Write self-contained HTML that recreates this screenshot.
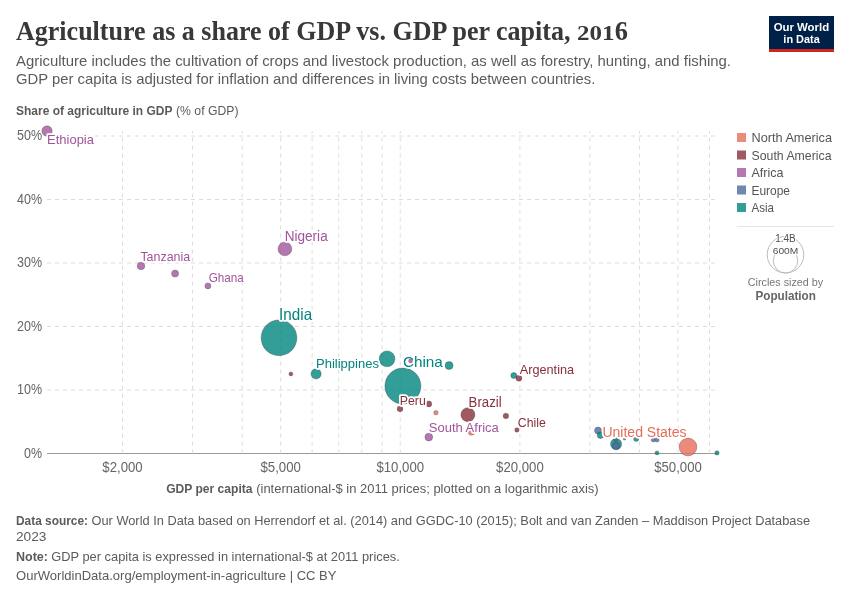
<!DOCTYPE html>
<html><head><meta charset="utf-8">
<style>
html,body{margin:0;padding:0;background:#fff;}
body{width:850px;height:600px;overflow:hidden;position:relative;}
svg{position:absolute;left:0;top:0;will-change:transform;}
text{font-family:"Liberation Sans",sans-serif;}
.serif{font-family:"Liberation Serif",serif;}
</style></head><body>
<svg width="850" height="600" viewBox="0 0 850 600">
<text x="16" y="40" font-size="27" fill="#383838" class="serif" font-weight="700" textLength="554.5" lengthAdjust="spacingAndGlyphs">Agriculture as a share of GDP vs. GDP per capita,</text>
<g transform="translate(577,40) scale(1,0.74)"><text x="0" y="0" font-size="27" fill="#383838" font-weight="700" class="serif" textLength="37.5" lengthAdjust="spacingAndGlyphs">201</text></g>
<text x="614.8" y="40" font-size="27" fill="#383838" class="serif" font-weight="700" textLength="13.2" lengthAdjust="spacingAndGlyphs">6</text>
<text x="16" y="66" font-size="15" fill="#5b5b5b" textLength="715" lengthAdjust="spacingAndGlyphs">Agriculture includes the cultivation of crops and livestock production, as well as forestry, hunting, and fishing.</text>
<text x="16" y="84" font-size="15" fill="#5b5b5b" textLength="579.3" lengthAdjust="spacingAndGlyphs">GDP per capita is adjusted for inflation and differences in living costs between countries.</text>
<rect x="769" y="16" width="65" height="36" fill="#002147"/>
<rect x="769" y="49" width="65" height="3" fill="#ce261e"/>
<text x="801.4" y="30.8" font-size="11.8" fill="#fff" font-weight="700" text-anchor="middle" textLength="55.5" lengthAdjust="spacingAndGlyphs">Our World</text>
<text x="801.6" y="42.6" font-size="11.8" fill="#fff" font-weight="700" text-anchor="middle" textLength="36.5" lengthAdjust="spacingAndGlyphs">in Data</text>
<text x="16" y="114.7" font-size="12.4" fill="#5b5b5b" font-weight="700" textLength="156.5" lengthAdjust="spacingAndGlyphs">Share of agriculture in GDP</text>
<text x="176" y="114.7" font-size="12.4" fill="#5b5b5b" textLength="62.5" lengthAdjust="spacingAndGlyphs">(% of GDP)</text>
<line x1="47" y1="453.5" x2="718" y2="453.5" stroke="#999" stroke-width="1"/>
<line x1="47" y1="390.0" x2="718" y2="390.0" stroke="#ddd" stroke-width="1" stroke-dasharray="4,4"/>
<line x1="47" y1="326.5" x2="718" y2="326.5" stroke="#ddd" stroke-width="1" stroke-dasharray="4,4"/>
<line x1="47" y1="263.0" x2="718" y2="263.0" stroke="#ddd" stroke-width="1" stroke-dasharray="4,4"/>
<line x1="47" y1="199.5" x2="718" y2="199.5" stroke="#ddd" stroke-width="1" stroke-dasharray="4,4"/>
<line x1="47" y1="136.0" x2="718" y2="136.0" stroke="#ddd" stroke-width="1" stroke-dasharray="4,4"/>
<line x1="122.50" y1="453.5" x2="122.50" y2="131" stroke="#ddd" stroke-width="1" stroke-dasharray="4,4"/>
<line x1="192.48" y1="453.5" x2="192.48" y2="131" stroke="#ddd" stroke-width="1" stroke-dasharray="4,4"/>
<line x1="242.13" y1="453.5" x2="242.13" y2="131" stroke="#ddd" stroke-width="1" stroke-dasharray="4,4"/>
<line x1="280.64" y1="453.5" x2="280.64" y2="131" stroke="#ddd" stroke-width="1" stroke-dasharray="4,4"/>
<line x1="312.11" y1="453.5" x2="312.11" y2="131" stroke="#ddd" stroke-width="1" stroke-dasharray="4,4"/>
<line x1="338.71" y1="453.5" x2="338.71" y2="131" stroke="#ddd" stroke-width="1" stroke-dasharray="4,4"/>
<line x1="361.76" y1="453.5" x2="361.76" y2="131" stroke="#ddd" stroke-width="1" stroke-dasharray="4,4"/>
<line x1="382.09" y1="453.5" x2="382.09" y2="131" stroke="#ddd" stroke-width="1" stroke-dasharray="4,4"/>
<line x1="400.27" y1="453.5" x2="400.27" y2="131" stroke="#ddd" stroke-width="1" stroke-dasharray="4,4"/>
<line x1="519.90" y1="453.5" x2="519.90" y2="131" stroke="#ddd" stroke-width="1" stroke-dasharray="4,4"/>
<line x1="589.88" y1="453.5" x2="589.88" y2="131" stroke="#ddd" stroke-width="1" stroke-dasharray="4,4"/>
<line x1="639.53" y1="453.5" x2="639.53" y2="131" stroke="#ddd" stroke-width="1" stroke-dasharray="4,4"/>
<line x1="678.04" y1="453.5" x2="678.04" y2="131" stroke="#ddd" stroke-width="1" stroke-dasharray="4,4"/>
<line x1="709.51" y1="453.5" x2="709.51" y2="131" stroke="#ddd" stroke-width="1" stroke-dasharray="4,4"/>
<text x="42" y="457.8" font-size="13.8" fill="#666" text-anchor="end" textLength="18" lengthAdjust="spacingAndGlyphs">0%</text>
<text x="42" y="394.3" font-size="13.8" fill="#666" text-anchor="end" textLength="25" lengthAdjust="spacingAndGlyphs">10%</text>
<text x="42" y="330.8" font-size="13.8" fill="#666" text-anchor="end" textLength="25" lengthAdjust="spacingAndGlyphs">20%</text>
<text x="42" y="267.3" font-size="13.8" fill="#666" text-anchor="end" textLength="25" lengthAdjust="spacingAndGlyphs">30%</text>
<text x="42" y="203.8" font-size="13.8" fill="#666" text-anchor="end" textLength="25" lengthAdjust="spacingAndGlyphs">40%</text>
<text x="42" y="140.3" font-size="13.8" fill="#666" text-anchor="end" textLength="25" lengthAdjust="spacingAndGlyphs">50%</text>
<text x="122.50" y="471.8" font-size="14" fill="#666" text-anchor="middle" textLength="40.4" lengthAdjust="spacingAndGlyphs">$2,000</text>
<text x="280.64" y="471.8" font-size="14" fill="#666" text-anchor="middle" textLength="40.4" lengthAdjust="spacingAndGlyphs">$5,000</text>
<text x="400.27" y="471.8" font-size="14" fill="#666" text-anchor="middle" textLength="47.7" lengthAdjust="spacingAndGlyphs">$10,000</text>
<text x="519.90" y="471.8" font-size="14" fill="#666" text-anchor="middle" textLength="47.7" lengthAdjust="spacingAndGlyphs">$20,000</text>
<text x="678.04" y="471.8" font-size="14" fill="#666" text-anchor="middle" textLength="47.7" lengthAdjust="spacingAndGlyphs">$50,000</text>
<text x="166.2" y="492.5" font-size="12.4" fill="#5b5b5b" font-weight="700" textLength="86.3" lengthAdjust="spacingAndGlyphs">GDP per capita</text>
<text x="256.2" y="492.5" font-size="12.4" fill="#5b5b5b" textLength="342.4" lengthAdjust="spacingAndGlyphs">(international-$ in 2011 prices; plotted on a logarithmic axis)</text>
<circle cx="47" cy="131" r="5.2" fill="#A2559C" fill-opacity="0.8" stroke="#333" stroke-opacity="0.6" stroke-width="0.5"/>
<circle cx="141" cy="266" r="3.8" fill="#A2559C" fill-opacity="0.8" stroke="#333" stroke-opacity="0.6" stroke-width="0.5"/>
<circle cx="175.1" cy="273.6" r="3.5" fill="#A2559C" fill-opacity="0.8" stroke="#333" stroke-opacity="0.6" stroke-width="0.5"/>
<circle cx="207.9" cy="285.9" r="3.0" fill="#A2559C" fill-opacity="0.8" stroke="#333" stroke-opacity="0.6" stroke-width="0.5"/>
<circle cx="284.9" cy="248.9" r="6.9" fill="#A2559C" fill-opacity="0.8" stroke="#333" stroke-opacity="0.6" stroke-width="0.5"/>
<circle cx="279" cy="337.8" r="17.9" fill="#00847E" fill-opacity="0.8" stroke="#333" stroke-opacity="0.6" stroke-width="0.5"/>
<circle cx="290.9" cy="373.9" r="2.0" fill="#883039" fill-opacity="0.8" stroke="#333" stroke-opacity="0.6" stroke-width="0.5"/>
<circle cx="316.1" cy="373.9" r="5.1" fill="#00847E" fill-opacity="0.8" stroke="#333" stroke-opacity="0.6" stroke-width="0.5"/>
<circle cx="387.06" cy="358.8" r="7.9" fill="#00847E" fill-opacity="0.8" stroke="#333" stroke-opacity="0.6" stroke-width="0.5"/>
<circle cx="402.9" cy="386" r="18" fill="#00847E" fill-opacity="0.8" stroke="#333" stroke-opacity="0.6" stroke-width="0.5"/>
<circle cx="449.06" cy="365.6" r="4.0" fill="#00847E" fill-opacity="0.8" stroke="#333" stroke-opacity="0.6" stroke-width="0.5"/>
<circle cx="400" cy="408.8" r="2.9" fill="#883039" fill-opacity="0.8" stroke="#333" stroke-opacity="0.6" stroke-width="0.5"/>
<circle cx="428.8" cy="403.9" r="3.0" fill="#883039" fill-opacity="0.8" stroke="#333" stroke-opacity="0.6" stroke-width="0.5"/>
<circle cx="435.9" cy="412.7" r="2.2" fill="#E56E5A" fill-opacity="0.8" stroke="#333" stroke-opacity="0.6" stroke-width="0.5"/>
<circle cx="467.9" cy="414.7" r="7.06" fill="#883039" fill-opacity="0.8" stroke="#333" stroke-opacity="0.6" stroke-width="0.5"/>
<circle cx="428.8" cy="437.1" r="3.9" fill="#A2559C" fill-opacity="0.8" stroke="#333" stroke-opacity="0.6" stroke-width="0.5"/>
<circle cx="471.5" cy="431.8" r="3.4" fill="#E56E5A" fill-opacity="0.8" stroke="#333" stroke-opacity="0.6" stroke-width="0.5"/>
<circle cx="513.8" cy="375.6" r="3.0" fill="#00847E" fill-opacity="0.8" stroke="#333" stroke-opacity="0.6" stroke-width="0.5"/>
<circle cx="518.9" cy="378.2" r="3.0" fill="#883039" fill-opacity="0.8" stroke="#333" stroke-opacity="0.6" stroke-width="0.5"/>
<circle cx="505.9" cy="415.9" r="2.75" fill="#883039" fill-opacity="0.8" stroke="#333" stroke-opacity="0.6" stroke-width="0.5"/>
<circle cx="516.9" cy="430" r="2.2" fill="#883039" fill-opacity="0.8" stroke="#333" stroke-opacity="0.6" stroke-width="0.5"/>
<circle cx="598" cy="430.5" r="3.5" fill="#4C6A9C" fill-opacity="0.8" stroke="#333" stroke-opacity="0.6" stroke-width="0.5"/>
<circle cx="600.5" cy="435.2" r="3.3" fill="#00847E" fill-opacity="0.8" stroke="#333" stroke-opacity="0.6" stroke-width="0.5"/>
<circle cx="616.1" cy="444" r="5.6" fill="#00847E" fill-opacity="0.8" stroke="#333" stroke-opacity="0.6" stroke-width="0.5"/>
<circle cx="616.1" cy="445.8" r="3.85" fill="#4C6A9C" fill-opacity="0.8" stroke="#333" stroke-opacity="0.6" stroke-width="0.5"/>
<circle cx="615.8" cy="439.2" r="2.2" fill="#4C6A9C" fill-opacity="0.8" stroke="#333" stroke-opacity="0.6" stroke-width="0.5"/>
<circle cx="624.5" cy="438.6" r="1.5" fill="#4C6A9C" fill-opacity="0.8" stroke="#333" stroke-opacity="0.6" stroke-width="0.5"/>
<circle cx="636.2" cy="438.8" r="2.6" fill="#00847E" fill-opacity="0.8" stroke="#333" stroke-opacity="0.6" stroke-width="0.5"/>
<circle cx="653.3" cy="439.9" r="2.1" fill="#4C6A9C" fill-opacity="0.8" stroke="#333" stroke-opacity="0.6" stroke-width="0.5"/>
<circle cx="657" cy="439.9" r="2.1" fill="#4C6A9C" fill-opacity="0.8" stroke="#333" stroke-opacity="0.6" stroke-width="0.5"/>
<circle cx="657" cy="452.9" r="2.0" fill="#00847E" fill-opacity="0.8" stroke="#333" stroke-opacity="0.6" stroke-width="0.5"/>
<circle cx="688" cy="447" r="8.9" fill="#E56E5A" fill-opacity="0.8" stroke="#333" stroke-opacity="0.6" stroke-width="0.5"/>
<circle cx="717" cy="452.9" r="2.2" fill="#00847E" fill-opacity="0.8" stroke="#333" stroke-opacity="0.6" stroke-width="0.5"/>
<text x="47" y="143.8" font-size="13.5" fill="#A2559C" text-anchor="start" textLength="47" lengthAdjust="spacingAndGlyphs" stroke="#fff" stroke-width="3.4" stroke-linejoin="round" paint-order="stroke">Ethiopia</text>
<text x="140.4" y="261.1" font-size="13.5" fill="#A2559C" text-anchor="start" textLength="49.8" lengthAdjust="spacingAndGlyphs" stroke="#fff" stroke-width="3.4" stroke-linejoin="round" paint-order="stroke">Tanzania</text>
<text x="208.7" y="282" font-size="13.5" fill="#A2559C" text-anchor="start" textLength="35.2" lengthAdjust="spacingAndGlyphs" stroke="#fff" stroke-width="3.4" stroke-linejoin="round" paint-order="stroke">Ghana</text>
<text x="284.7" y="240.6" font-size="13.8" fill="#A2559C" text-anchor="start" textLength="43" lengthAdjust="spacingAndGlyphs" stroke="#fff" stroke-width="3.4" stroke-linejoin="round" paint-order="stroke">Nigeria</text>
<text x="279.1" y="319.5" font-size="16.5" fill="#00847E" text-anchor="start" textLength="33" lengthAdjust="spacingAndGlyphs" stroke="#fff" stroke-width="3.4" stroke-linejoin="round" paint-order="stroke">India</text>
<text x="316" y="367.6" font-size="13.5" fill="#00847E" text-anchor="start" textLength="63" lengthAdjust="spacingAndGlyphs" stroke="#fff" stroke-width="3.4" stroke-linejoin="round" paint-order="stroke">Philippines</text>
<text x="402.9" y="366.8" font-size="15" fill="#00847E" text-anchor="start" textLength="40" lengthAdjust="spacingAndGlyphs" stroke="#fff" stroke-width="3.4" stroke-linejoin="round" paint-order="stroke">China</text>
<text x="399.8" y="405" font-size="12.5" fill="#883039" text-anchor="start" textLength="26" lengthAdjust="spacingAndGlyphs" stroke="#fff" stroke-width="3.4" stroke-linejoin="round" paint-order="stroke">Peru</text>
<text x="468.6" y="406.5" font-size="13.8" fill="#883039" text-anchor="start" textLength="33" lengthAdjust="spacingAndGlyphs" stroke="#fff" stroke-width="3.4" stroke-linejoin="round" paint-order="stroke">Brazil</text>
<text x="428.8" y="431.8" font-size="13.5" fill="#A2559C" text-anchor="start" textLength="70" lengthAdjust="spacingAndGlyphs" stroke="#fff" stroke-width="3.4" stroke-linejoin="round" paint-order="stroke">South Africa</text>
<text x="519.7" y="373.7" font-size="13.5" fill="#883039" text-anchor="start" textLength="54.4" lengthAdjust="spacingAndGlyphs" stroke="#fff" stroke-width="3.4" stroke-linejoin="round" paint-order="stroke">Argentina</text>
<text x="517.8" y="426.6" font-size="13.5" fill="#883039" text-anchor="start" textLength="28" lengthAdjust="spacingAndGlyphs" stroke="#fff" stroke-width="3.4" stroke-linejoin="round" paint-order="stroke">Chile</text>
<text x="686.6" y="436.9" font-size="13.8" fill="#E56E5A" text-anchor="end" textLength="84.2" lengthAdjust="spacingAndGlyphs" stroke="#fff" stroke-width="3.4" stroke-linejoin="round" paint-order="stroke">United States</text>
<circle cx="410.6" cy="360.9" r="2.1" fill="#A2559C" fill-opacity="0.8" stroke="#333" stroke-opacity="0.4" stroke-width="0.5"/>
<rect x="737" y="133.0" width="9" height="9" fill="#E56E5A" fill-opacity="0.8"/>
<text x="751.5" y="142.0" font-size="12.8" fill="#555" textLength="80.5" lengthAdjust="spacingAndGlyphs">North America</text>
<rect x="737" y="150.5" width="9" height="9" fill="#883039" fill-opacity="0.8"/>
<text x="751.5" y="159.5" font-size="12.8" fill="#555" textLength="80" lengthAdjust="spacingAndGlyphs">South America</text>
<rect x="737" y="168.0" width="9" height="9" fill="#A2559C" fill-opacity="0.8"/>
<text x="751.5" y="177.0" font-size="12.8" fill="#555" textLength="32" lengthAdjust="spacingAndGlyphs">Africa</text>
<rect x="737" y="185.5" width="9" height="9" fill="#4C6A9C" fill-opacity="0.8"/>
<text x="751.5" y="194.5" font-size="12.8" fill="#555" textLength="38.5" lengthAdjust="spacingAndGlyphs">Europe</text>
<rect x="737" y="203.0" width="9" height="9" fill="#00847E" fill-opacity="0.8"/>
<text x="751.5" y="212.0" font-size="12.8" fill="#555" textLength="22.5" lengthAdjust="spacingAndGlyphs">Asia</text>
<line x1="737" y1="226.5" x2="834" y2="226.5" stroke="#e5e5e5" stroke-width="1"/>
<circle cx="785.5" cy="254.7" r="18.3" fill="none" stroke="#bbb" stroke-width="1"/>
<circle cx="785.5" cy="260.8" r="12.2" fill="none" stroke="#bbb" stroke-width="1"/>
<text x="785.5" y="241.8" font-size="10" fill="#4e4e4e" text-anchor="middle" stroke="#fff" stroke-width="2" paint-order="stroke">1.4B</text>
<text x="785.5" y="253.9" font-size="9.2" fill="#4e4e4e" text-anchor="middle" textLength="25.5" lengthAdjust="spacingAndGlyphs" stroke="#fff" stroke-width="2" paint-order="stroke">600M</text>
<text x="785.5" y="286" font-size="11.3" fill="#777" text-anchor="middle" textLength="75.5" lengthAdjust="spacingAndGlyphs">Circles sized by</text>
<text x="785.7" y="299.7" font-size="11.9" fill="#666" font-weight="700" text-anchor="middle" textLength="60.5" lengthAdjust="spacingAndGlyphs">Population</text>
<text x="16" y="525" font-size="13" fill="#5b5b5b" font-weight="700" textLength="72" lengthAdjust="spacingAndGlyphs">Data source:</text>
<text x="91.5" y="525" font-size="13" fill="#5b5b5b" textLength="718.5" lengthAdjust="spacingAndGlyphs">Our World In Data based on Herrendorf et al. (2014) and GGDC-10 (2015); Bolt and van Zanden – Maddison Project Database</text>
<text x="16" y="540.7" font-size="13" fill="#5b5b5b" textLength="30.5" lengthAdjust="spacingAndGlyphs">2023</text>
<text x="16" y="560.5" font-size="13" fill="#5b5b5b" font-weight="700" textLength="32" lengthAdjust="spacingAndGlyphs">Note:</text>
<text x="51.3" y="560.5" font-size="13" fill="#5b5b5b" textLength="348.5" lengthAdjust="spacingAndGlyphs">GDP per capita is expressed in international-$ at 2011 prices.</text>
<text x="16" y="580" font-size="13" fill="#5b5b5b" textLength="320.5" lengthAdjust="spacingAndGlyphs">OurWorldinData.org/employment-in-agriculture | CC BY</text>
</svg></body></html>
